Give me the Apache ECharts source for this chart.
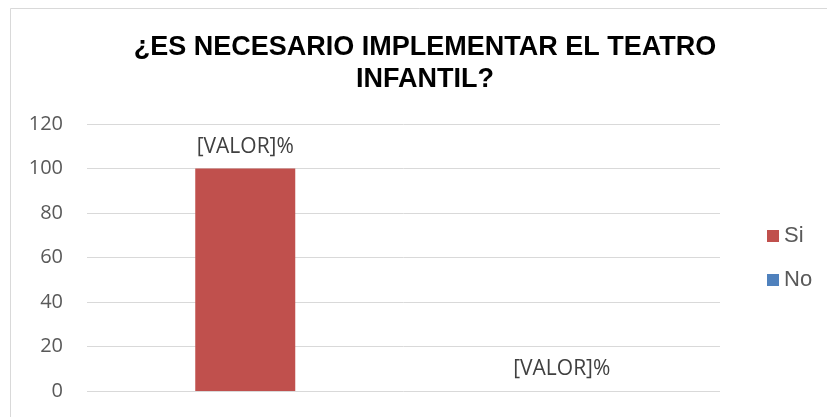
<!DOCTYPE html>
<html>
<head>
<meta charset="utf-8">
<script src="https://cdn.jsdelivr.net/npm/echarts@6/dist/echarts.min.js"></script>
<style>
  html, body { margin: 0; padding: 0; background: #fff; }
  #container1 { width: 827px; height: 417px; }
</style>
</head>
<body>
<div id="container1"></div>
<script>
var categories = ["Si", "No"];
var siValues = [100, "-"];
var noValues = ["-", 0];
var yTicks = { min: 0, max: 120, interval: 20 };

var chart = echarts.init(document.getElementById("container1"));

var labelStyle = {
    show: true,
    position: "top",
    distance: 11,
    formatter: "[VALOR]%",
    color: "#404040",
    fontFamily: "Open Sans",
    fontSize: 21
};

var option = {
    animation: false,
    backgroundColor: "#fff",
    graphic: [{
        type: "rect",
        shape: { x: 10.5, y: 8.5, width: 840, height: 430 },
        style: { fill: "none", stroke: "#d9d9d9", lineWidth: 1 }
    }],
    title: {
        text: "¿ES NECESARIO IMPLEMENTAR EL TEATRO\nINFANTIL?",
        left: 420,
        top: 27,
        textAlign: "center",
        textStyle: {
            fontFamily: "Liberation Sans",
            fontWeight: "bold",
            fontSize: 27,
            lineHeight: 32,
            color: "#000"
        }
    },
    legend: {
        orient: "vertical",
        left: 762,
        top: 220,
        itemWidth: 12,
        itemHeight: 12,
        itemGap: 22,
        icon: "rect",
        textStyle: {
            fontFamily: "Liberation Sans",
            fontSize: 22,
            color: "#595959"
        },
        data: ["Si", "No"]
    },
    grid: { left: 87, right: 107, top: 124, bottom: 26 },
    xAxis: {
        type: "category",
        data: categories,
        axisLine: { show: false },
        axisTick: { show: false },
        axisLabel: { show: false }
    },
    yAxis: {
        type: "value",
        min: yTicks.min,
        max: yTicks.max,
        interval: yTicks.interval,
        axisLine: { show: false },
        axisTick: { show: false },
        axisLabel: {
            margin: 24,
            color: "#595959",
            fontFamily: "Open Sans",
            fontSize: 20
        },
        splitLine: { lineStyle: { color: "#d9d9d9", width: 1 } }
    },
    series: [{
        name: "Si",
        type: "bar",
        stack: "total",
        barWidth: 100,
        data: siValues,
        itemStyle: { color: "#C0504D" },
        label: labelStyle
    }, {
        name: "No",
        type: "bar",
        stack: "total",
        barWidth: 100,
        data: noValues,
        itemStyle: { color: "#4F81BD" },
        label: labelStyle
    }]
};
chart.setOption(option);
</script>
</body>
</html>
